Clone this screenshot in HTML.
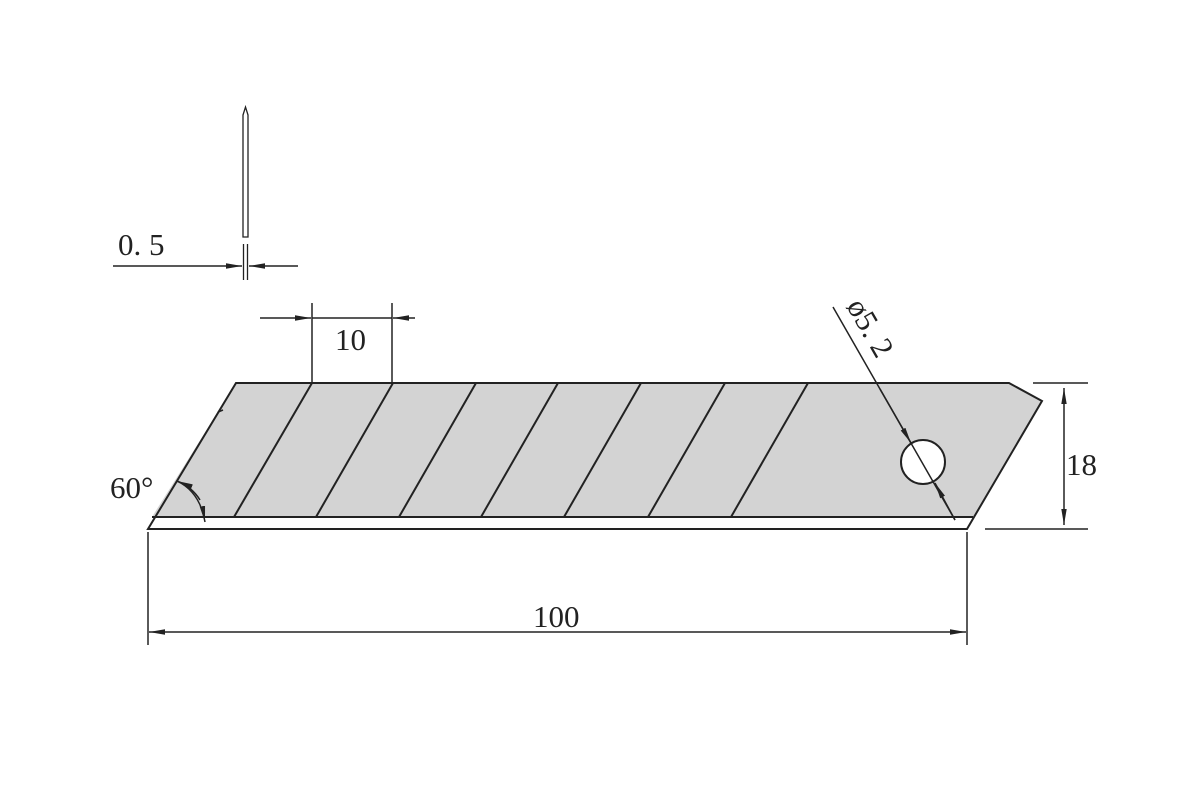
<!DOCTYPE html>
<html><head><style>html,body{margin:0;padding:0;background:#fff}svg{display:block}</style></head><body>
<svg width="1200" height="800" viewBox="0 0 1200 800" xmlns="http://www.w3.org/2000/svg">
<defs>
<marker id="a" viewBox="0 0 16 6" refX="16" refY="3" markerWidth="16" markerHeight="6" markerUnits="userSpaceOnUse" orient="auto"><path d="M0,0.3L16,3L0,5.7z" fill="#222"/></marker>
</defs>
<g stroke="#222" fill="none" stroke-width="1.5">
<path d="M236,383 L1009,383 L1042,401 L973,517 L152,517 Z" fill="#d3d3d3" stroke="none"/>
<path d="M236,383 L1009,383 L1042,401 L967,529 L148,529 Z" stroke-width="2"/>
<line x1="152" y1="517" x2="973" y2="517" stroke-width="2"/>
<path d="M218,412 l5,-2" />
<g stroke-width="2">
<line x1="312" y1="383" x2="234" y2="517"/>
<line x1="393" y1="383" x2="316" y2="517"/>
<line x1="476" y1="383" x2="399" y2="517"/>
<line x1="558" y1="383" x2="481" y2="517"/>
<line x1="641" y1="383" x2="564" y2="517"/>
<line x1="725" y1="383" x2="648" y2="517"/>
<line x1="808" y1="383" x2="731" y2="517"/>
</g>
<circle cx="923" cy="462" r="22" fill="#fff" stroke-width="2"/>
<line x1="833" y1="307" x2="955" y2="520"/>
<line x1="880" y1="389" x2="911" y2="443" marker-end="url(#a)"/>
<line x1="955" y1="520" x2="935" y2="483" marker-end="url(#a)"/>
<line x1="1033" y1="383" x2="1088" y2="383"/>
<line x1="985" y1="529" x2="1088" y2="529"/>
<line x1="1064" y1="450" x2="1064" y2="388" marker-end="url(#a)"/>
<line x1="1064" y1="450" x2="1064" y2="525" marker-end="url(#a)"/>
<line x1="148" y1="532" x2="148" y2="645"/>
<line x1="967" y1="532" x2="967" y2="645"/>
<line x1="560" y1="632" x2="149" y2="632" marker-end="url(#a)"/>
<line x1="560" y1="632" x2="966" y2="632" marker-end="url(#a)"/>
<line x1="312" y1="303" x2="312" y2="383"/>
<line x1="392" y1="303" x2="392" y2="383"/>
<line x1="260" y1="318" x2="311" y2="318" marker-end="url(#a)"/>
<line x1="312" y1="318" x2="392" y2="318"/>
<line x1="415" y1="318" x2="393" y2="318" marker-end="url(#a)"/>
<path d="M243,237 L243,115 L245.5,107 L248,115 L248,237 Z" stroke-width="1.3"/>
<line x1="243.5" y1="244" x2="243.5" y2="280" stroke-width="1.3"/>
<line x1="247.5" y1="244" x2="247.5" y2="280" stroke-width="1.3"/>
<line x1="113" y1="266" x2="242" y2="266" marker-end="url(#a)"/>
<line x1="298" y1="266" x2="249" y2="266" marker-end="url(#a)"/>
<path d="M177,481 Q200,492 205,522" marker-end="url(#a)"/>
<path d="M200,500 Q192,487 177,481" marker-end="url(#a)"/>
</g>
<g font-family="Liberation Serif, serif" fill="#222" font-size="31">
<text x="118" y="255">0. 5</text>
<text x="335" y="350">10</text>
<text x="110" y="498">60°</text>
<text x="533" y="627">100</text>
<text x="1066" y="475">18</text>
<text transform="translate(846,306) rotate(60)">ø5. 2</text>
</g>
</svg>
</body></html>
